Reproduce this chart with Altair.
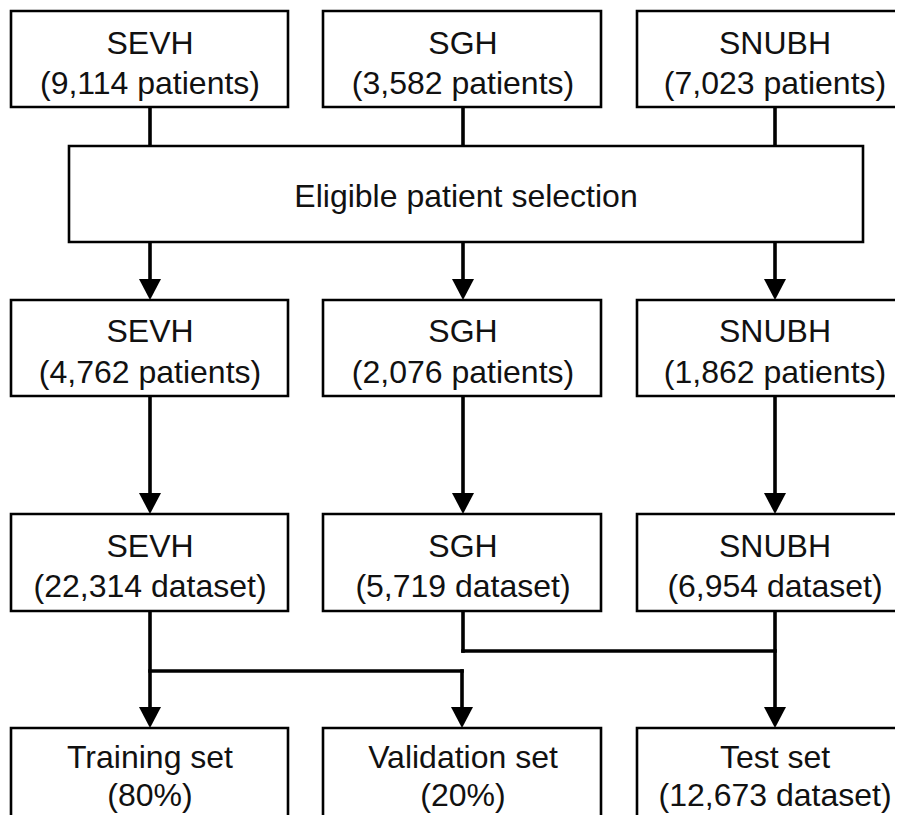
import altair as alt
import pandas as pd

# ---- text content ----
hospitals = ["SEVH", "SGH", "SNUBH"]
raw_patients = ["(9,114 patients)", "(3,582 patients)", "(7,023 patients)"]
eligible_patients = ["(4,762 patients)", "(2,076 patients)", "(1,862 patients)"]
datasets = ["(22,314 dataset)", "(5,719 dataset)", "(6,954 dataset)"]
split_titles = ["Training set", "Validation set", "Test set"]
split_subs = ["(80%)", "(20%)", "(12,673 dataset)"]
selection_label = "Eligible patient selection"

# ---- layout (pixel-like coordinates of the flowchart canvas) ----
col_left = [11, 323, 637]
col_right = [288, 601, 920]
col_mid = [150, 463, 775]
row_top = [11, 300, 514, 728]
row_bot = [107, 396, 611, 840]
line1_off = [33, 32, 33, 30]
line2_off = [73, 73, 73, 68]
sel_box = (69, 863, 146, 242)
split_y_left = 671
split_y_right = 651
arrow_h = 21

rows_text = [
    (hospitals, raw_patients),
    (hospitals, eligible_patients),
    (hospitals, datasets),
    (split_titles, split_subs),
]

boxes, texts = [], []
for r, (t1, t2) in enumerate(rows_text):
    for c in range(3):
        boxes.append(dict(x=col_left[c], x2=col_right[c], y=row_top[r], y2=row_bot[r]))
        texts.append(dict(x=col_mid[c], y=row_top[r] + line1_off[r], text=t1[c]))
        texts.append(dict(x=col_mid[c], y=row_top[r] + line2_off[r], text=t2[c]))
boxes.append(dict(x=sel_box[0], x2=sel_box[1], y=sel_box[2], y2=sel_box[3]))
texts.append(dict(x=(sel_box[0] + sel_box[1]) / 2, y=(sel_box[2] + sel_box[3]) / 2 + 3, text=selection_label))

lines, arrows = [], []
# row1 -> selection box
for c in range(3):
    lines.append(dict(x=col_mid[c], x2=col_mid[c], y=row_bot[0], y2=sel_box[2]))
# selection -> row2, row2 -> row3
for c in range(3):
    lines.append(dict(x=col_mid[c], x2=col_mid[c], y=sel_box[3], y2=row_top[1] - 10))
    arrows.append(dict(x=col_mid[c], y=row_top[1]))
    lines.append(dict(x=col_mid[c], x2=col_mid[c], y=row_bot[1], y2=row_top[2] - 10))
    arrows.append(dict(x=col_mid[c], y=row_top[2]))
# SEVH dataset -> training / validation
lines.append(dict(x=col_mid[0], x2=col_mid[0], y=row_bot[2], y2=row_top[3] - 10))
arrows.append(dict(x=col_mid[0], y=row_top[3]))
lines.append(dict(x=col_mid[0], x2=col_mid[1] - 1, y=split_y_left, y2=split_y_left))
lines.append(dict(x=col_mid[1] - 1, x2=col_mid[1] - 1, y=split_y_left, y2=row_top[3] - 10))
arrows.append(dict(x=col_mid[1] - 1, y=row_top[3]))
# SGH + SNUBH dataset -> test
lines.append(dict(x=col_mid[1], x2=col_mid[1], y=row_bot[2], y2=split_y_right))
lines.append(dict(x=col_mid[1], x2=col_mid[2], y=split_y_right, y2=split_y_right))
lines.append(dict(x=col_mid[2], x2=col_mid[2], y=row_bot[2], y2=row_top[3] - 10))
arrows.append(dict(x=col_mid[2], y=row_top[3]))

df_boxes = pd.DataFrame(boxes)
df_texts = pd.DataFrame(texts)
df_lines = pd.DataFrame(lines)
df_arrows = pd.DataFrame(arrows)
df_arrows["yc"] = df_arrows["y"] - arrow_h / 2

W, H = 887, 807
xs = alt.Scale(domain=[8, 8 + W], nice=False, zero=False)
ys = alt.Scale(domain=[8, 8 + H], nice=False, zero=False, reverse=True)
noax = None

box_layer = alt.Chart(df_boxes).mark_rect(
    fill="white", stroke="black", strokeWidth=2.6, clip=True
).encode(
    x=alt.X("x:Q", scale=xs, axis=noax), x2="x2:Q",
    y=alt.Y("y:Q", scale=ys, axis=noax), y2="y2:Q",
)

line_layer = alt.Chart(df_lines).mark_rule(
    color="black", strokeWidth=3.6, strokeCap="square", clip=True
).encode(
    x=alt.X("x:Q", scale=xs, axis=noax), x2="x2:Q",
    y=alt.Y("y:Q", scale=ys, axis=noax), y2="y2:Q",
)

arrow_layer = alt.Chart(df_arrows).mark_point(
    shape="M-1,-0.95L1,-0.95L0,0.95Z", filled=True, color="black",
    opacity=1, size=484, strokeWidth=0
).encode(
    x=alt.X("x:Q", scale=xs, axis=noax),
    y=alt.Y("yc:Q", scale=ys, axis=noax),
)

text_layer = alt.Chart(df_texts).mark_text(
    font="Liberation Sans", fontSize=32, color="#111111",
    align="center", baseline="middle"
).encode(
    x=alt.X("x:Q", scale=xs, axis=noax),
    y=alt.Y("y:Q", scale=ys, axis=noax),
    text="text:N",
)

chart = alt.layer(line_layer, box_layer, arrow_layer, text_layer).properties(
    width=W, height=H, padding=0, autosize=alt.AutoSizeParams(type="none"),
    background="white"
).configure_view(stroke=None)

chart.save("out.html", embed_options={"renderer": "svg", "actions": False})
